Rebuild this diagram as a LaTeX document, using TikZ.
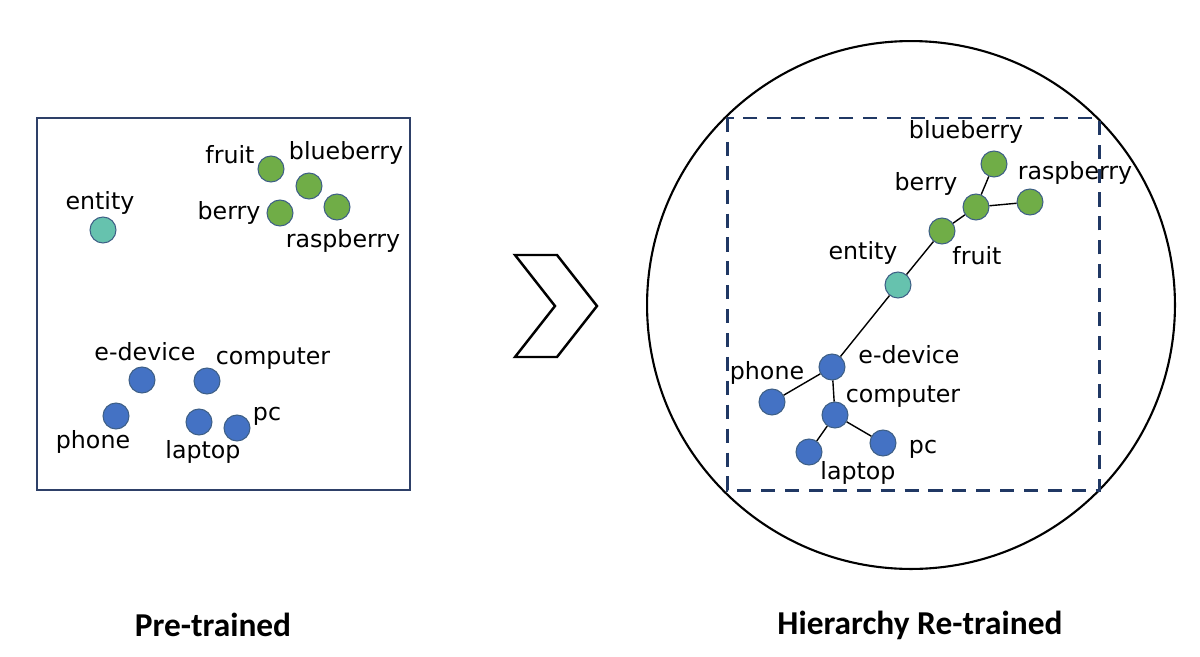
\documentclass[tikz,border=0pt]{standalone}
\usepackage{fontspec}
\newfontfamily\labelfont{DejaVu Sans}
\newfontfamily\titlefont{Carlito}
\definecolor{leafgreen}{HTML}{70AD47}
\definecolor{rootteal}{HTML}{66C2AE}
\definecolor{devblue}{HTML}{4472C4}
\definecolor{dotline}{HTML}{3E5F86}
\definecolor{boxnavy}{HTML}{2E4068}
\definecolor{dashnavy}{HTML}{203864}
\tikzstyle{dot} = [circle, minimum size=0.52cm, inner sep=0pt, draw=dotline, line width=0.6pt]
\tikzstyle{greendot} = [dot, fill=leafgreen]
\tikzstyle{tealdot} = [dot, fill=rootteal]
\tikzstyle{bluedot} = [dot, fill=devblue]
\tikzstyle{word} = [inner sep=0pt, font=\labelfont\fontsize{13.5}{16}\selectfont]
\tikzstyle{title} = [inner sep=0pt, font=\titlefont\bfseries\fontsize{19}{22}\selectfont]
\tikzstyle{link} = [line width=0.8pt, draw=black]

\begin{document}
\begin{tikzpicture}[x=0.02cm, y=-0.02cm]
    \useasboundingbox (0,0) rectangle (1200,656);

    %frames
    \draw [boxnavy, line width=1.4pt] (37,118) rectangle (410,490);
    \draw [line width=1.4pt, line join=miter] (515,255) -- (557,255) -- (597,306) -- (557,357) -- (515,357) -- (555,306) -- cycle;
    \draw [line width=1.2pt] (911,305) circle [radius=5.28cm];
    \draw [dashnavy, line width=1.7pt, dash pattern=on 8pt off 5.6pt] (727,118) rectangle (1099,490);

    %nodes pre-trained
    \node (fruit) [greendot] at (271,169) {};
    \node (blueberry) [greendot] at (309,186) {};
    \node (berry) [greendot] at (280,213) {};
    \node (raspberry) [greendot] at (337,207) {};
    \node (entity) [tealdot] at (103,230) {};
    \node (edevice) [bluedot] at (142,380) {};
    \node (computer) [bluedot] at (207,381) {};
    \node (phone) [bluedot] at (116,416) {};
    \node (laptop) [bluedot] at (199,422) {};
    \node (pc) [bluedot] at (237,428) {};

    \node (tfruit) [word] at (230,155) {fruit};
    \node (tblueberry) [word] at (346,153) {blueberry};
    \node (tberry) [word] at (229,213) {berry};
    \node (traspberry) [word] at (343,241) {raspberry};
    \node (tentity) [word] at (100,203) {entity};
    \node (tedevice) [word] at (145,352) {e-device};
    \node (tcomputer) [word] at (273,359) {computer};
    \node (tphone) [word] at (93,442) {phone};
    \node (tlaptop) [word] at (203,452) {laptop};
    \node (tpc) [word] at (267,416) {pc};

    %nodes re-trained
    \node (blueberry1) [greendot] at (994,164) {};
    \node (berry1) [greendot] at (976,207) {};
    \node (raspberry1) [greendot] at (1030,202) {};
    \node (fruit1) [greendot] at (942,231) {};
    \node (entity1) [tealdot] at (898,285) {};
    \node (edevice1) [bluedot] at (832,367) {};
    \node (phone1) [bluedot] at (772,402) {};
    \node (computer1) [bluedot] at (835,415) {};
    \node (laptop1) [bluedot] at (809,452) {};
    \node (pc1) [bluedot] at (883,443) {};

    \node (tblueberry1) [word] at (966,132) {blueberry};
    \node (traspberry1) [word] at (1075,173) {raspberry};
    \node (tberry1) [word] at (926,184) {berry};
    \node (tfruit1) [word] at (977,256) {fruit};
    \node (tentity1) [word] at (863,253) {entity};
    \node (tedevice1) [word] at (909,355) {e-device};
    \node (tphone1) [word] at (767,373) {phone};
    \node (tcomputer1) [word] at (903,397) {computer};
    \node (tpc1) [word] at (923,449) {pc};
    \node (tlaptop1) [word] at (858,473) {laptop};

    %links
    \draw [link] (blueberry1) -- (berry1);
    \draw [link] (berry1) -- (raspberry1);
    \draw [link] (berry1) -- (fruit1);
    \draw [link] (fruit1) -- (entity1);
    \draw [link] (entity1) -- (edevice1);
    \draw [link] (edevice1) -- (phone1);
    \draw [link] (edevice1) -- (computer1);
    \draw [link] (computer1) -- (laptop1);
    \draw [link] (computer1) -- (pc1);

    %titles
    \node (pre) [title] at (213,625) {Pre-trained};
    \node (re) [title] at (920,625) {Hierarchy Re-trained};
\end{tikzpicture}
\end{document}
